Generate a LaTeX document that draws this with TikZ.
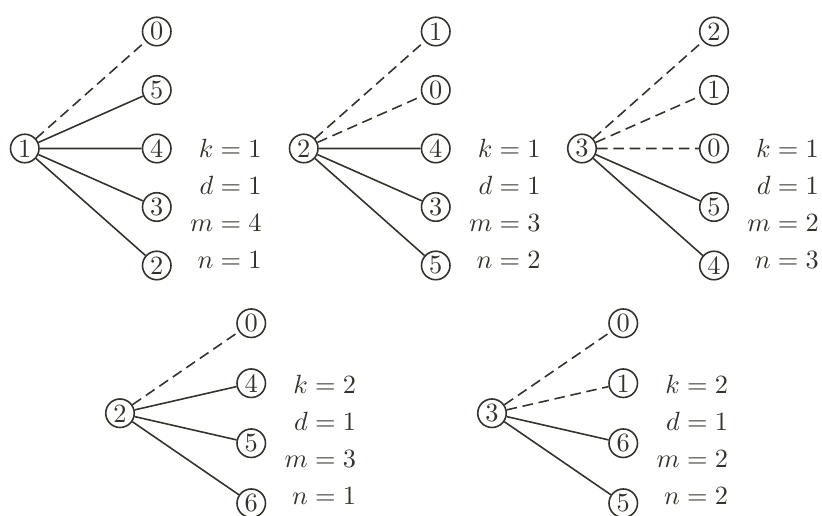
\documentclass[tikz,border=0pt]{standalone}
\usepackage{amsmath}
\usepackage{tikz}
\usetikzlibrary{calc}
\definecolor{ink}{HTML}{33332B}

\begin{document}
\begin{tikzpicture}[color=ink,line width=0.6pt,
  vtx/.style={circle,draw,minimum size=0.38cm,inner sep=0pt},
  dsh/.style={dash pattern=on 4pt off 2.2pt},
  lab/.style={anchor=north east,align=right,inner sep=0pt,font=\fontsize{10}{14}\selectfont}]
  \useasboundingbox (0,0) rectangle (10.96,6.88);
  % k = 1, root 1
  \begin{scope}[shift={(0.33,4.9)}]
    \node[vtx] (A) at (0,0) {1};
    \node[vtx] (A0) at (1.76,1.56) {0};
    \node[vtx] (A5) at (1.76,0.78) {5};
    \node[vtx] (A4) at (1.76,0) {4};
    \node[vtx] (A3) at (1.76,-0.78) {3};
    \node[vtx] (A2) at (1.76,-1.56) {2};
    \draw[dsh] (A) -- (A0);
    \draw (A) -- (A5) (A) -- (A4) (A) -- (A3) (A) -- (A2);
    \node[lab] (TA) at (3.17,0.13) {$k=1$\\ $d=1$\\ $m=4$\\ $n=1$};
  \end{scope}
  % k = 1, root 2
  \begin{scope}[shift={(4.05,4.9)}]
    \node[vtx] (B) at (0,0) {2};
    \node[vtx] (B1) at (1.76,1.56) {1};
    \node[vtx] (B0) at (1.76,0.78) {0};
    \node[vtx] (B4) at (1.76,0) {4};
    \node[vtx] (B3) at (1.76,-0.78) {3};
    \node[vtx] (B5) at (1.76,-1.56) {5};
    \draw[dsh] (B) -- (B1) (B) -- (B0);
    \draw (B) -- (B4) (B) -- (B3) (B) -- (B5);
    \node[lab] (TB) at (3.17,0.13) {$k=1$\\ $d=1$\\ $m=3$\\ $n=2$};
  \end{scope}
  % k = 1, root 3
  \begin{scope}[shift={(7.76,4.9)}]
    \node[vtx] (C) at (0,0) {3};
    \node[vtx] (C2) at (1.76,1.56) {2};
    \node[vtx] (C1) at (1.76,0.78) {1};
    \node[vtx] (C0) at (1.76,0) {0};
    \node[vtx] (C5) at (1.76,-0.78) {5};
    \node[vtx] (C4) at (1.76,-1.56) {4};
    \draw[dsh] (C) -- (C2) (C) -- (C1) (C) -- (C0);
    \draw (C) -- (C5) (C) -- (C4);
    \node[lab] (TC) at (3.17,0.13) {$k=1$\\ $d=1$\\ $m=2$\\ $n=3$};
  \end{scope}
  % k = 2, root 2
  \begin{scope}[shift={(1.6,1.37)}]
    \node[vtx] (D) at (0,0) {2};
    \node[vtx] (D0) at (1.75,1.2) {0};
    \node[vtx] (D4) at (1.75,0.4) {4};
    \node[vtx] (D5) at (1.75,-0.4) {5};
    \node[vtx] (D6) at (1.75,-1.2) {6};
    \draw[dsh] (D) -- (D0);
    \draw (D) -- (D4) (D) -- (D5) (D) -- (D6);
    \node[lab] (TD) at (3.16,0.52) {$k=2$\\ $d=1$\\ $m=3$\\ $n=1$};
  \end{scope}
  % k = 2, root 3
  \begin{scope}[shift={(6.56,1.37)}]
    \node[vtx] (E) at (0,0) {3};
    \node[vtx] (E0) at (1.75,1.2) {0};
    \node[vtx] (E1) at (1.75,0.4) {1};
    \node[vtx] (E6) at (1.75,-0.4) {6};
    \node[vtx] (E5) at (1.75,-1.2) {5};
    \draw[dsh] (E) -- (E0) (E) -- (E1);
    \draw (E) -- (E6) (E) -- (E5);
    \node[lab] (TE) at (3.16,0.52) {$k=2$\\ $d=1$\\ $m=2$\\ $n=2$};
  \end{scope}
\end{tikzpicture}
\end{document}
